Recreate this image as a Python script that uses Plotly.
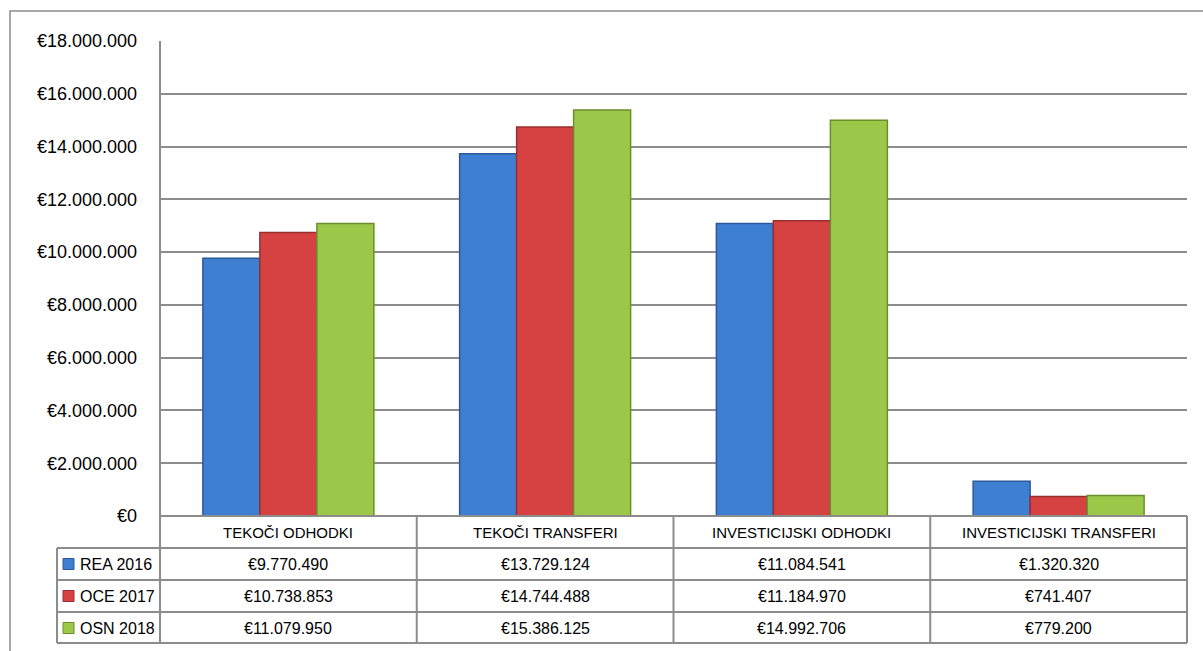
import plotly.graph_objects as go

categories = ["TEKOČI ODHODKI", "TEKOČI TRANSFERI", "INVESTICIJSKI ODHODKI", "INVESTICIJSKI TRANSFERI"]
series_names = ["REA 2016", "OCE 2017", "OSN 2018"]
rea_2016 = [9770490, 13729124, 11084541, 1320320]
oce_2017 = [10738853, 14744488, 11184970, 741407]
osn_2018 = [11079950, 15386125, 14992706, 779200]
series_values = [rea_2016, oce_2017, osn_2018]
fill_colors = ["#3f7fd2", "#d64242", "#9cc84a"]
edge_colors = ["#2a5a9a", "#9a2e2e", "#6a8f2c"]
y_ticks = [0, 2000000, 4000000, 6000000, 8000000, 10000000, 12000000, 14000000, 16000000, 18000000]

W, H = 1203, 651
L, R, T, B = 160, 16, 41, 135
PW, PH = W - L - R, H - T - B
FONT = "Liberation Sans"
GRID = "#8c8c8c"


def px_x(px):
    return (px - L) / PW


def px_y(py):
    return (H - B - py) / PH


def fmt(v):
    return "€" + f"{v:,}".replace(",", ".")


fig = go.Figure()
for name, vals, fc, ec in zip(series_names, series_values, fill_colors, edge_colors):
    fig.add_trace(go.Bar(
        x=categories, y=vals, name=name,
        marker=dict(color=fc, line=dict(color=ec, width=1.5)),
        showlegend=False,
    ))

shapes = []
line = dict(color=GRID, width=2)
row_lines = [px_y(548), px_y(580), px_y(612), px_y(643)]
shapes.append(dict(type="line", xref="paper", yref="paper", x0=0, x1=1, y0=0, y1=0, line=line))
for yl in row_lines:
    shapes.append(dict(type="line", xref="paper", yref="paper", x0=px_x(57), x1=1, y0=yl, y1=yl, line=line))
n = len(categories)
for i in range(n + 1):
    shapes.append(dict(type="line", xref="paper", yref="paper", x0=i / n, x1=i / n,
                       y0=0 if i else 1, y1=row_lines[-1], line=line))
shapes.append(dict(type="line", xref="paper", yref="paper", x0=px_x(57), x1=px_x(57),
                   y0=row_lines[0], y1=row_lines[-1], line=line))
# outer chart border (extends beyond visible frame)
shapes.append(dict(type="path", xref="paper", yref="paper",
                   path=f"M {px_x(10)},{px_y(700)} L {px_x(10)},{px_y(11)} L {px_x(1250)},{px_y(11)}",
                   line=dict(color="#8c8c8c", width=1.5)))

annotations = []
for c in categories:
    annotations.append(dict(x=c, xref="x", yref="paper", y=px_y(532), text=c, showarrow=False,
                            font=dict(family=FONT, size=15, color="#000"), xanchor="center", yanchor="middle"))
row_centers = [px_y(564), px_y(596), px_y(628)]
for name, vals, fc, ec, yc in zip(series_names, series_values, fill_colors, edge_colors, row_centers):
    for c, v in zip(categories, vals):
        annotations.append(dict(x=c, xref="x", yref="paper", y=yc, text=fmt(v), showarrow=False,
                                font=dict(family=FONT, size=16, color="#000"), xanchor="center", yanchor="middle"))
    annotations.append(dict(x=px_x(78), xref="paper", yref="paper", y=yc, text=name, showarrow=False,
                            font=dict(family=FONT, size=16, color="#000"), xanchor="left", yanchor="middle"))
    shapes.append(dict(type="rect", xref="paper", yref="paper",
                       x0=px_x(63), x1=px_x(74), y0=yc - 5.5 / PH, y1=yc + 5.5 / PH,
                       fillcolor=fc, line=dict(color=ec, width=1)))

fig.update_layout(
    width=W, height=H,
    margin=dict(l=L, r=R, t=T, b=B, autoexpand=False),
    paper_bgcolor="white", plot_bgcolor="white",
    separators=",.",
    barmode="group", bargap=0.334, bargroupgap=0,
    font=dict(family=FONT, color="#000"),
    xaxis=dict(showticklabels=False, showgrid=False, zeroline=False, showline=False, ticks=""),
    yaxis=dict(range=[0, 18000000], tickmode="array", tickvals=y_ticks,
               ticktext=[fmt(v) for v in y_ticks],
               showgrid=True, gridcolor=GRID, gridwidth=1.5, zeroline=False,
               showline=False, ticks="", ticklabelstandoff=22,
               tickfont=dict(family=FONT, size=18, color="#000")),
    shapes=shapes, annotations=annotations,
)

fig.write_html("out.html", config={"displayModeBar": False},
               post_script="document.body.style.margin='0';document.body.style.overflow='hidden';")
